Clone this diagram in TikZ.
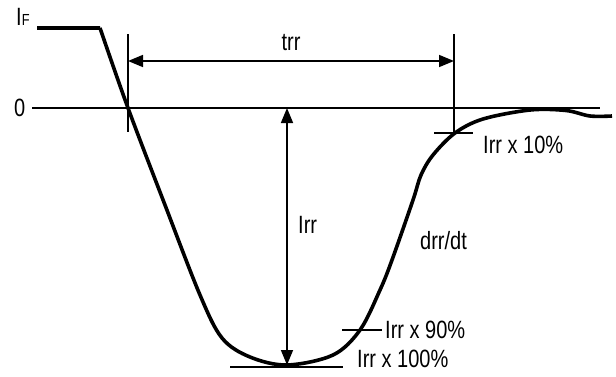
\documentclass[tikz,border=0pt]{standalone}
\usepackage{fontspec}
\setmainfont{Liberation Sans}[FakeStretch=0.8]
\usetikzlibrary{arrows.meta}
\tikzset{
  thinline/.style={line width=1.6pt, black},
  curveline/.style={line width=3.6pt, black, line join=round},
  dimarrow/.style={thinline, {Triangle[length=15pt,width=12pt]}-{Triangle[length=15pt,width=12pt]}},
  lbl/.style={inner sep=0pt, anchor=base west, font=\fontsize{25pt}{25pt}\selectfont}
}
\begin{document}
\begin{tikzpicture}[x=1pt,y=-1pt]
\useasboundingbox (0,0) rectangle (616,376);
% zero line
\coordinate (z0) at (32,108);
\coordinate (z1) at (600,108);
\draw[thinline] (z0) -- (z1);
% markers
\coordinate (mLt) at (128,34); \coordinate (mLb) at (128,132);
\coordinate (mRt) at (454,34); \coordinate (mRb) at (454,132);
\draw[thinline] (mLt) -- (mLb);
\draw[thinline] (mRt) -- (mRb);
% trr arrow
\coordinate (tA) at (128,61); \coordinate (tB) at (454,61);
\draw[dimarrow] (tA) -- (tB);
% Irr arrow
\coordinate (iA) at (287,108); \coordinate (iB) at (287,365);
\draw[dimarrow] (iA) -- (iB);
% level ticks
\coordinate (p10a) at (434,133); \coordinate (p10b) at (473,133);
\coordinate (p90a) at (342,330); \coordinate (p90b) at (382,330);
\coordinate (p100a) at (230,367); \coordinate (p100b) at (343,367);
\draw[thinline] (p10a) -- (p10b);
\draw[thinline] (p90a) -- (p90b);
\draw[thinline] (p100a) -- (p100b);
% curve
\draw[curveline] (37,28) -- (100,28)
  plot[smooth, tension=0.55] coordinates {(100,28) (128,108) (165,205) (200,295) (222,338) (250,357) (287,365) (333,355) (360,330) (380,290) (392,260) (413,200) (421,175) (433,155) (455,133) (483,119) (530,110) (566,110.5) (590,116) (612,116)};
% labels
\node[lbl] (lIF) at (16,25) {I{\fontsize{16pt}{16pt}\selectfont F}};
\node[lbl, anchor=west] (lzero) at (14,108) {0};
\node[lbl, anchor=base] (ltrr) at (291,50) {trr};
\node[lbl] (lIrr) at (298,233) {Irr};
\node[lbl] (ldrr) at (420,249) {drr/dt};
\node[lbl] (l10) at (483,153) {Irr x 10\%};
\node[lbl] (l90) at (385,338) {Irr x 90\%};
\node[lbl] (l100) at (357,367) {Irr x 100\%};
\end{tikzpicture}
\end{document}
